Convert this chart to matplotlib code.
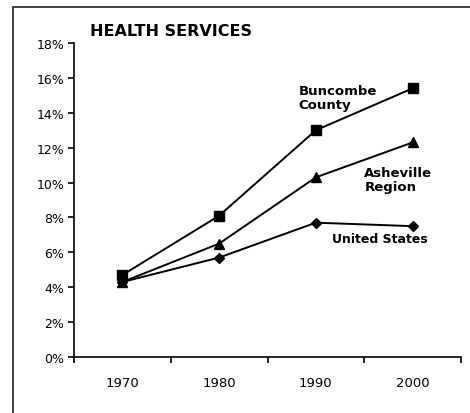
import matplotlib
matplotlib.use("Agg")
import matplotlib.pyplot as plt
from matplotlib.patches import Rectangle
from matplotlib.ticker import FixedLocator, FuncFormatter

plt.rcParams["font.family"] = ["DejaVu Sans"]

years = ["1970", "1980", "1990", "2000"]
buncombe = [4.7, 8.1, 13.0, 15.4]
asheville = [4.3, 6.5, 10.3, 12.3]
united_states = [4.3, 5.7, 7.7, 7.5]

fig = plt.figure(figsize=(4.70, 4.14), dpi=100)
ax = fig.add_axes([74 / 470, 56 / 414, 387 / 470, 314 / 414])

# outer frame around the panel
fig.patches.append(Rectangle((13 / 470, -0.05), 1.2, 1.05 - 8 / 414,
                             transform=fig.transFigure, fill=False,
                             edgecolor="#222222", lw=1.2))

x = range(len(years))
ax.plot(x, buncombe, color="black", lw=1.4, marker="s", ms=7.5, zorder=4)
ax.plot(x, asheville, color="black", lw=1.4, marker="^", ms=7, zorder=4)
ax.plot(x, united_states, color="black", lw=1.4, marker="D", ms=5, zorder=4)

ax.set_xlim(-0.5, 3.5)
ax.set_ylim(0, 18)
ax.set_yticks(range(0, 19, 2))
ax.yaxis.set_major_formatter(FuncFormatter(lambda v, _: f"{v:.0f}%"))
ax.set_xticks(list(x))
ax.set_xticklabels(years)
ax.xaxis.set_minor_locator(FixedLocator([-0.5, 0.5, 1.5, 2.5, 3.5]))
ax.tick_params(axis="x", which="major", length=0, pad=14, labelsize=9.5)
ax.tick_params(axis="x", which="minor", length=4, direction="out", width=1.2)
ax.tick_params(axis="y", length=4, width=1.2, labelsize=9, pad=3)

for side in ("top", "right"):
    ax.spines[side].set_visible(False)
for side in ("left", "bottom"):
    ax.spines[side].set_linewidth(1.2)

fig.text(90 / 470, 1 - 31 / 414, "HEALTH SERVICES", fontsize=11.5,
         fontweight="bold", ha="left", va="center")
ax.text(1.82, 14.88, "Buncombe\nCounty", fontsize=9.5, fontweight="bold",
        ha="left", va="center", linespacing=1.15)
ax.text(2.5, 10.18, "Asheville\nRegion", fontsize=9.5, fontweight="bold",
        ha="left", va="center", linespacing=1.15)
ax.text(2.17, 6.77, "United States", fontsize=9, fontweight="bold",
        ha="left", va="center")

fig.savefig("out.png", dpi=100)
